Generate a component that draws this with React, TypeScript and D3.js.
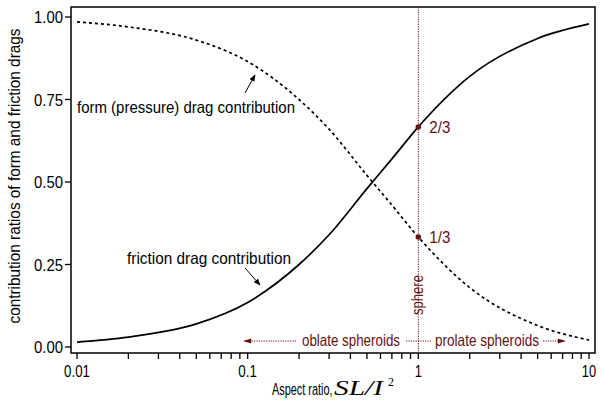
import React from "react";
import * as d3 from "d3";

const aspectRatios = [0.01, 0.02, 0.05, 0.1, 0.2, 0.3, 0.5, 0.7, 1, 2, 5, 10];
const frictionRatio = [0.015, 0.03, 0.07, 0.135, 0.25, 0.34, 0.48, 0.57, 0.667, 0.82, 0.935, 0.979];
const formRatio = [0.985, 0.97, 0.93, 0.865, 0.75, 0.66, 0.52, 0.43, 0.333, 0.18, 0.065, 0.021];
const xMajorTicks = [0.01, 0.1, 1, 10];
const xTickLabels = ["0.01", "0.1", "1", "10"];
const yTicks = [0, 0.25, 0.5, 0.75, 1];
const yTickLabels = ["0.00", "0.25", "0.50", "0.75", "1.00"];
const sphereX = 1;
const sphereMarks = [2 / 3, 1 / 3];
const sphereLabels = ["2/3", "1/3"];

const W = 607, H = 403;
const FONT = "'Liberation Sans', Arial, sans-serif";
const SERIF = "'Liberation Serif', 'DejaVu Serif', serif";
const RED = "#6b1010";

export default function App() {
  const x = d3.scaleLog().domain([0.01, 10]).range([77, 589]);
  const y = d3.scaleLinear().domain([0, 1]).range([347, 17]);
  const frame = { l: 71, t: 7, r: 595, b: 353 };

  const line = d3
    .line<number>()
    .x((_, i) => x(aspectRatios[i]))
    .y((d) => y(d))
    .curve(d3.curveMonotoneX);

  const minorTicks: number[] = [];
  for (let e = -2; e < 1; e++) {
    for (let m = 2; m <= 9; m++) minorTicks.push(m * Math.pow(10, e));
  }

  const sx = x(sphereX);
  const arrowY = 341;
  const fit = { lengthAdjust: "spacingAndGlyphs" as const };

  return (
    <svg width={W} height={H} style={{ position: "absolute", left: 0, top: 0, background: "#fff" }} fontFamily={FONT}>
      <defs>
        <marker id="ahBlack" viewBox="0 0 10 10" refX="9" refY="5" markerWidth="7" markerHeight="7" orient="auto">
          <path d="M0,1 L10,5 L0,9 z" fill="#000" />
        </marker>
        <marker id="ahRed" viewBox="0 0 10 10" refX="9" refY="5" markerWidth="12" markerHeight="8" markerUnits="userSpaceOnUse" orient="auto">
          <path d="M0,2 L10,5 L0,8 z" fill={RED} />
        </marker>
      </defs>
      {/* frame */}
      <rect x={frame.l} y={frame.t} width={frame.r - frame.l} height={frame.b - frame.t} fill="none" stroke="#000" strokeWidth={1.5} />
      {/* x ticks */}
      {xMajorTicks.concat(minorTicks).map((t, i) => (
        <line key={"xt" + i} x1={x(t)} x2={x(t)} y1={frame.b} y2={frame.b + 6} stroke="#000" strokeWidth={1.3} />
      ))}
      {xMajorTicks.map((t, i) => (
        <text key={"xl" + i} x={x(t)} y={377} textAnchor="middle" fontSize={17}
          textLength={xTickLabels[i].length * 7.2 - (xTickLabels[i].includes(".") ? 3 : 0)} {...fit}>
          {xTickLabels[i]}
        </text>
      ))}
      {/* y ticks */}
      {yTicks.map((t, i) => (
        <g key={"yt" + i}>
          <line x1={frame.l - 6} x2={frame.l} y1={y(t)} y2={y(t)} stroke="#000" strokeWidth={1.3} />
          <text x={frame.l - 8} y={y(t) + 6} textAnchor="end" fontSize={17} textLength={29} {...fit}>
            {yTickLabels[i]}
          </text>
        </g>
      ))}
      {/* axis titles */}
      <text transform="translate(272,395) scale(0.64,1)" fontSize={17}>Aspect ratio,</text>
      <text x={334} y={395} fontFamily={SERIF} fontStyle="italic" fontSize={20} textLength={49} {...fit}>SL/I</text>
      <text x={388} y={386} fontFamily={SERIF} fontSize={12}>2</text>
      <text transform={`translate(20,176) rotate(-90)`} textAnchor="middle" fontSize={16.5} textLength={295} {...fit}>
        contribution ratios of form and friction drags
      </text>
      {/* sphere line */}
      <line x1={sx} x2={sx} y1={frame.t} y2={frame.b} stroke={RED} strokeWidth={1} strokeDasharray="1.2,1.2" />
      {/* curves */}
      <path d={line(formRatio) || ""} fill="none" stroke="#000" strokeWidth={1.7} strokeDasharray="3,3" />
      <path d={line(frictionRatio) || ""} fill="none" stroke="#000" strokeWidth={1.7} />
      {/* sphere marks */}
      {sphereMarks.map((v, i) => (
        <g key={"sm" + i}>
          <circle cx={sx} cy={y(v)} r={2.8} fill={RED} />
          <text x={sx + 11} y={y(v) + 6} fontSize={17} fill={RED} textLength={21} {...fit}>
            {sphereLabels[i]}
          </text>
        </g>
      ))}
      <text transform={`translate(${sx + 5},${295}) rotate(-90)`} textAnchor="middle" fontSize={16} fill={RED} textLength={40} {...fit}>
        sphere
      </text>
      {/* annotations */}
      <text x={77} y={113} fontSize={16.5} textLength={218} {...fit}>form (pressure) drag contribution</text>
      <line x1={245} y1={93} x2={255} y2={75} stroke="#000" strokeWidth={1} markerEnd="url(#ahBlack)" />
      <text x={127} y={264} fontSize={16.5} textLength={164} {...fit}>friction drag contribution</text>
      <line x1={245} y1={268} x2={260} y2={285} stroke="#000" strokeWidth={1} markerEnd="url(#ahBlack)" />
      {/* bottom arrows */}
      <line x1={296} y1={arrowY} x2={244} y2={arrowY} stroke={RED} strokeWidth={1} strokeDasharray="1.2,1.2" markerEnd="url(#ahRed)" />
      <text x={302} y={346} fontSize={16.5} fill={RED} textLength={98} {...fit}>oblate spheroids</text>
      <line x1={406} y1={arrowY} x2={431} y2={arrowY} stroke={RED} strokeWidth={1} strokeDasharray="1.2,1.2" />
      <text x={435} y={346} fontSize={16.5} fill={RED} textLength={104} {...fit}>prolate spheroids</text>
      <line x1={543} y1={arrowY} x2={565} y2={arrowY} stroke={RED} strokeWidth={1} strokeDasharray="1.2,1.2" markerEnd="url(#ahRed)" />
    </svg>
  );
}
